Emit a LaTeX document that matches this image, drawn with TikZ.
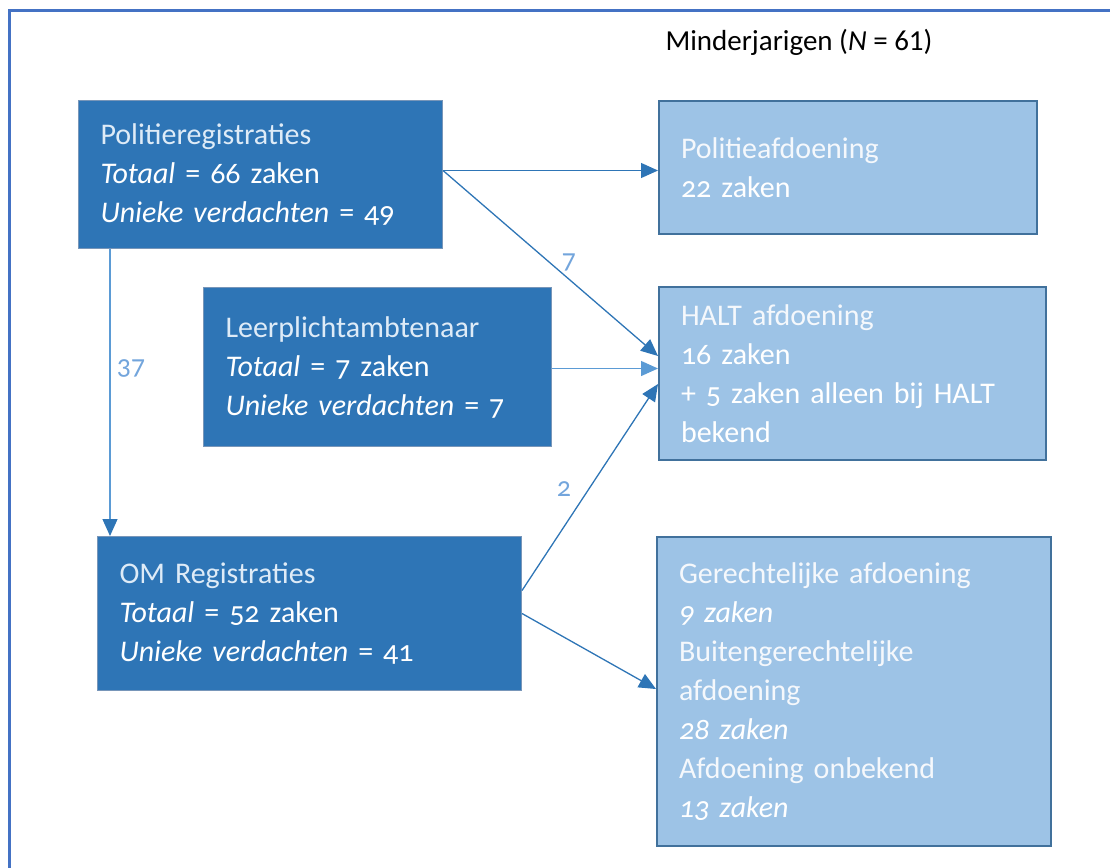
\documentclass[tikz,border=0pt]{standalone}
\usepackage{fontspec}
\setmainfont{Carlito}
\newfontfamily\boxfont{Carlito}[Numbers=OldStyle]
\usetikzlibrary{arrows.meta,calc}
\definecolor{darkfill}{RGB}{46,117,182}
\definecolor{darkborder}{RGB}{120,150,185}
\definecolor{lightfill}{RGB}{157,195,230}
\definecolor{lightborder}{RGB}{65,113,156}
\definecolor{darkarrow}{RGB}{46,117,182}
\definecolor{lightarrow}{RGB}{91,155,213}
\definecolor{framecol}{RGB}{68,114,196}
\definecolor{hdrdark}{RGB}{222,235,247}
\definecolor{hdrlight}{RGB}{245,248,252}
\definecolor{lblcol}{RGB}{115,165,220}
\tikzset{
  boxbase/.style={anchor=north west, align=left, inner xsep=22pt, inner ysep=0pt,
    text=white, font=\boxfont\fontsize{30}{39}\selectfont},
  darkbox/.style={boxbase, fill=darkfill, draw=darkborder, line width=1pt},
  lightbox/.style={boxbase, fill=lightfill, draw=lightborder, line width=2pt},
  arr/.style={draw=darkarrow, line width=1.3pt, -{Triangle[length=17pt,width=15pt]}},
  larr/.style={draw=lightarrow, line width=1.3pt, -{Triangle[length=17pt,width=15pt]}},
  lbl/.style={text=lblcol, font=\boxfont\fontsize{28}{30}\selectfont, inner sep=1pt},
}
\begin{document}
\begin{tikzpicture}[x=1pt,y=-1pt]
\useasboundingbox (0,0) rectangle (1110,867);
\draw[framecol, line width=3pt] (9,880) -- (9,11) -- (1125,11);

\node[anchor=west, font=\fontsize{29}{32}\selectfont] (title) at (662,42) {Minderjarigen (\textit{N} = 61)};

\node[darkbox, text width=320pt, minimum height=148pt] (pol) at (78,100)
  {{\color{hdrdark}Politieregistraties}\\ \textit{Totaal} = 66 zaken\\ \textit{Unieke verdachten} = 49};
\node[darkbox, text width=304pt, minimum height=159pt] (lp) at (203,287)
  {{\color{hdrdark}Leerplichtambtenaar}\\ \textit{Totaal} = 7 zaken\\ \textit{Unieke verdachten} = 7};
\node[darkbox, text width=380pt, minimum height=154pt] (om) at (97,536)
  {{\color{hdrdark}OM Registraties}\\ \textit{Totaal} = 52 zaken\\ \textit{Unieke verdachten} = 41};

\node[lightbox, text width=334pt, minimum height=133pt] (pa) at (658,100)
  {{\color{hdrlight}Politieafdoening}\\ 22 zaken};
\node[lightbox, text width=343pt, minimum height=173pt] (halt) at (658,286)
  {{\color{hdrlight}HALT afdoening}\\ 16 zaken\\ + 5 zaken alleen bij HALT\\ bekend};
\node[lightbox, text width=350pt, minimum height=309pt] (br) at (656,536)
  {{\color{hdrlight}Gerechtelijke afdoening}\\ \textit{9 zaken}\\ {\color{hdrlight}Buitengerechtelijke}\\ {\color{hdrlight}afdoening}\\ \textit{28 zaken}\\ {\color{hdrlight}Afdoening onbekend}\\ \textit{13 zaken}};

\coordinate (s1) at ([yshift=4pt]pol.east);
\draw[arr] (s1) -- (s1 -| pa.west);
\draw[arr] (s1) -- ([yshift=17.5pt]halt.west);
\node[lbl] (l7) at (569,262) {7};

\coordinate (s2) at ([yshift=-1.5pt]lp.east);
\draw[larr] (s2) -- (s2 -| halt.west);

\coordinate (s3) at ([yshift=23pt]om.east);
\draw[arr] (s3) -- ([yshift=-10.5pt]halt.west);
\node[lbl] (l2) at (564,489) {2};

\draw[arr] (om.east) -- ([yshift=2.5pt]br.west);

\coordinate (s4) at ([xshift=32pt]pol.south west);
\draw[draw=lightarrow, line width=1.3pt, -{Triangle[length=17pt,width=15pt,color=darkarrow]}] (s4) -- (s4 |- om.north);
\node[lbl] (l37) at (131,368) {37};
\end{tikzpicture}
\end{document}
